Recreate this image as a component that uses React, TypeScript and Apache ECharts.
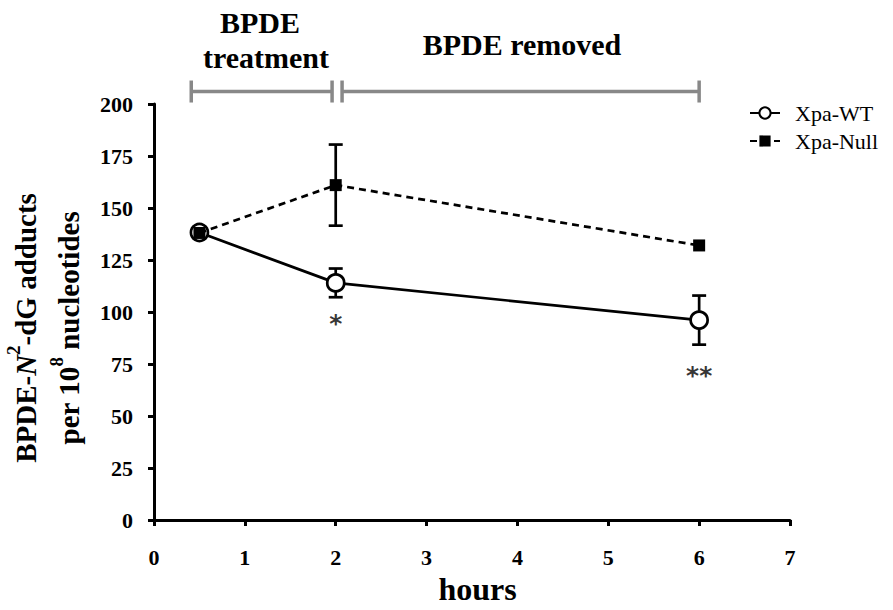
import React, { useEffect, useRef } from 'react';
import * as echarts from 'echarts';

const hours = [0.5, 2, 6];
const wtMean = [138.2, 114, 96.1];
const wtErr = [0, 6.9, 11.8];
const nullMean = [138, 161, 132];
const nullErr = [0, 19.5, 0];
const seriesNames = ['Xpa-WT', 'Xpa-Null'];
// brackets: [start hour, end hour, level in y units]
const brackets = [
  [0.41, 1.96, 206],
  [2.07, 6, 206],
];
// significance marks: [hour, y position, text]
const sigMarks: [number, number, string][] = [
  [2, 94.5, '*'],
  [6, 69.5, '**'],
];

const SERIF = '"Liberation Serif", "Times New Roman", serif';

export default function App() {
  const ref = useRef<HTMLDivElement>(null);
  useEffect(() => {
    if (!ref.current) return;
    const chart = echarts.init(ref.current, undefined, { renderer: 'svg' });
    const wtData = hours.map((h, i) => [h, wtMean[i]]);
    const nullData = hours.map((h, i) => [h, nullMean[i]]);
    const wtErrData = hours.map((h, i) => [h, wtMean[i] - wtErr[i], wtMean[i] + wtErr[i]]);
    const nullErrData = hours.map((h, i) => [h, nullMean[i] - nullErr[i], nullMean[i] + nullErr[i]]);

    const errRender = (params: any, api: any) => {
      const x = api.value(0);
      if (api.value(2) - api.value(1) <= 0) return null;
      const lo = api.coord([x, api.value(1)]);
      const hi = api.coord([x, api.value(2)]);
      const w = 7;
      const st = { stroke: '#000', lineWidth: 2.7 };
      return {
        type: 'group',
        children: [
          { type: 'line', shape: { x1: hi[0], y1: hi[1], x2: lo[0], y2: lo[1] }, style: st },
          { type: 'line', shape: { x1: hi[0] - w, y1: hi[1], x2: hi[0] + w, y2: hi[1] }, style: st },
          { type: 'line', shape: { x1: lo[0] - w, y1: lo[1], x2: lo[0] + w, y2: lo[1] }, style: st },
        ],
      };
    };

    const bracketRender = (params: any, api: any) => {
      const a = api.coord([api.value(0), api.value(2)]);
      const b = api.coord([api.value(1), api.value(2)]);
      const st = { stroke: '#888', lineWidth: 3.5 };
      const h = 11;
      return {
        type: 'group',
        children: [
          { type: 'line', shape: { x1: a[0], y1: a[1], x2: b[0], y2: b[1] }, style: st },
          { type: 'line', shape: { x1: a[0], y1: a[1] - h, x2: a[0], y2: a[1] + h }, style: st },
          { type: 'line', shape: { x1: b[0], y1: b[1] - h, x2: b[0], y2: b[1] + h }, style: st },
        ],
      };
    };

    const bold = { fontFamily: SERIF, fontWeight: 'bold', fontSize: 29, fill: '#000', lineHeight: 43 };

    chart.setOption({
      animation: false,
      backgroundColor: '#fff',
      grid: { left: 154, right: 103, top: 104, bottom: 86 },
      xAxis: {
        type: 'value',
        min: 0,
        max: 7,
        interval: 1,
        name: 'hours',
        nameLocation: 'middle',
        nameGap: 53,
        nameTextStyle: { fontFamily: SERIF, fontWeight: 'bold', fontSize: 32, color: '#000', padding: [0, 0, 0, 11] },
        axisLine: { lineStyle: { color: '#000', width: 3 } },
        axisTick: { show: true, length: 6, lineStyle: { color: '#000', width: 3 } },
        axisLabel: { fontFamily: SERIF, fontWeight: 'bold', fontSize: 22, color: '#000', margin: 26 },
        splitLine: { show: false },
      },
      yAxis: {
        type: 'value',
        min: 0,
        max: 200,
        interval: 25,
        axisLine: { show: true, lineStyle: { color: '#000', width: 3 } },
        axisTick: { show: true, length: 6, lineStyle: { color: '#000', width: 3 } },
        axisLabel: { fontFamily: SERIF, fontWeight: 'bold', fontSize: 22, color: '#000', margin: 21 },
        splitLine: { show: false },
      },
      legend: {
        orient: 'vertical',
        left: 744,
        top: 97,
        itemWidth: 30,
        itemHeight: 14,
        itemGap: 6,
        data: seriesNames,
        textStyle: { fontFamily: SERIF, fontSize: 22, color: '#000', lineHeight: 22, padding: [0, 0, 0, 10] },
      },
      graphic: [
        {
          type: 'text',
          x: 47,
          y: 328,
          rotation: Math.PI / 2,
          style: {
            text: '{b|BPDE-}{i|N}{s|2}{b|-dG adducts}\n{b|per 10}{s|8}{b| nucleotides}',
            align: 'center',
            verticalAlign: 'middle',
            rich: {
              b: bold,
              i: { ...bold, fontStyle: 'italic' },
              s: { fontFamily: SERIF, fontWeight: 'bold', fontSize: 19, fill: '#000', lineHeight: 32, verticalAlign: 'top' },
            },
          },
        },
        {
          type: 'text',
          x: 260,
          y: 22,
          style: { text: 'BPDE', font: `bold 30px ${SERIF}`, fill: '#000', align: 'center', verticalAlign: 'middle' },
        },
        {
          type: 'text',
          x: 266,
          y: 57,
          style: { text: 'treatment', font: `bold 30px ${SERIF}`, fill: '#000', align: 'center', verticalAlign: 'middle' },
        },
        {
          type: 'text',
          x: 522,
          y: 44,
          style: { text: 'BPDE removed', font: `bold 30px ${SERIF}`, fill: '#000', align: 'center', verticalAlign: 'middle' },
        },
      ],
      series: [
        {
          type: 'custom',
          name: 'brackets',
          data: brackets,
          renderItem: bracketRender,
          clip: false,
          silent: true,
          z: 1,
        },
        {
          type: 'custom',
          name: 'wtErr',
          data: wtErrData,
          renderItem: errRender,
          z: 1,
        },
        {
          type: 'custom',
          name: 'nullErr',
          data: nullErrData,
          renderItem: errRender,
          z: 1,
        },
        {
          name: 'Xpa-WT',
          type: 'line',
          data: wtData,
          symbol: 'circle',
          symbolSize: 17,
          lineStyle: { color: '#000', width: 2.7, type: 'solid' },
          itemStyle: { color: '#fff', borderColor: '#000', borderWidth: 2.7 },
          z: 3,
        },
        {
          name: 'Xpa-Null',
          type: 'line',
          data: nullData,
          symbol: 'rect',
          symbolSize: 12,
          lineStyle: { color: '#000', width: 2.7, type: [7, 5] },
          itemStyle: { color: '#000', borderColor: '#000', borderWidth: 0 },
          z: 4,
        },
        {
          type: 'scatter',
          name: 'sig',
          symbolSize: 0,
          data: sigMarks.map((m) => ({ value: [m[0], m[1]], name: m[2] })),
          label: {
            show: true,
            position: 'inside',
            formatter: '{b}',
            fontFamily: '"DejaVu Sans", sans-serif',
            fontWeight: 'bold',
            fontSize: 25,
            color: '#000',
          },
          silent: true,
          z: 5,
        },
      ],
    });
    return () => chart.dispose();
  }, []);
  return <div ref={ref} style={{ position: 'absolute', left: 0, top: 0, width: 893, height: 610 }} />;
}
